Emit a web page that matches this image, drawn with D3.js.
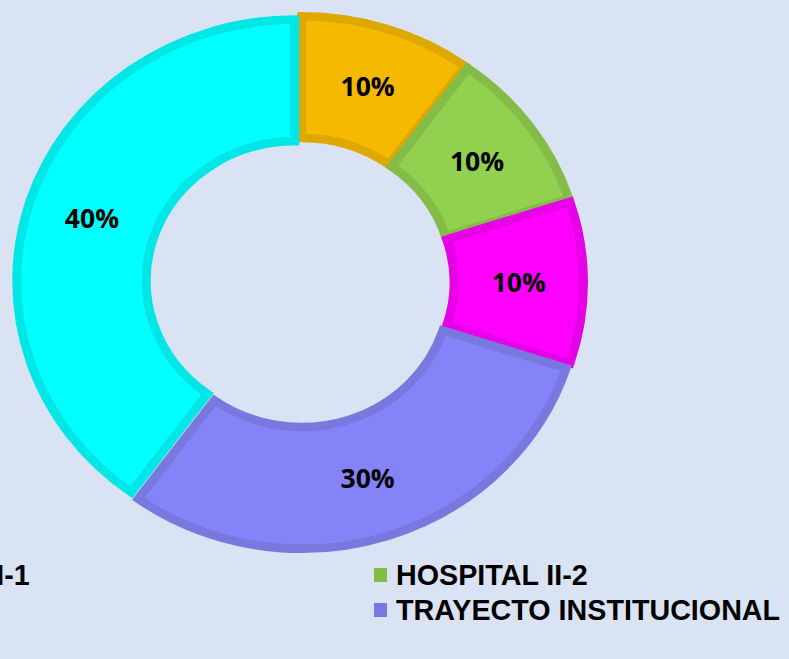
<!DOCTYPE html>
<html>
<head>
<meta charset="utf-8">
<script src="https://cdn.jsdelivr.net/npm/d3@7"></script>
<style>
    html, body { margin: 0; padding: 0; background: #dae3f3; }
    svg { display: block; }
    .label { font-family: "Open Sans", sans-serif; font-weight: 700; font-size: 26.5px; fill: #000; }
    .legend text { font-family: "Liberation Sans", Arial, sans-serif; font-weight: 700; font-size: 28.7px; fill: #000; }
</style>
</head>
<body>
<script>
// chart data (null = legend name lies outside the picture)
const categories = ['HOSPITAL II-1', 'HOSPITAL II-2', null, 'TRAYECTO INSTITUCIONAL', null];
const values = [10, 10, 10, 30, 40];
const fills = ['#f5b900', '#92d050', '#ff00ff', '#8484f8', '#00ffff'];
const borders = ['#dea800', '#84bc48', '#e600e6', '#7878de', '#00e6e6'];

let width = 789;
let height = 659;

const svg = d3.select('body')
    .append('svg')
    .attr('width', width)
    .attr('height', height);

svg.append('rect')
    .attr('width', width)
    .attr('height', height)
    .attr('fill', '#dae3f3');

let cx = 300, cy = 282.5;
let sy = 0.94;          // the picture is slightly squashed vertically
let explode = 5.5;
let outerR = 278, innerR = 148.5;

let data = values.map((v, i) => ({name: categories[i], value: v, fill: fills[i], border: borders[i], index: i}));

let pie = d3.pie()
    .sort(null)
    .value(d => d.value);

let arc = d3.arc()
    .innerRadius(innerR)
    .outerRadius(outerR);

let arcs = pie(data);

let g = svg.append('g')
    .attr('transform', 'translate(' + cx + ',' + cy + ') scale(1,' + sy + ')');

function mid(d) {
    return (d.startAngle + d.endAngle) / 2;
}

g.selectAll('path')
    .data(arcs)
    .enter()
    .append('path')
    .attr('d', arc)
    .attr('fill', d => d.data.fill)
    .attr('stroke', d => d.data.border)
    .attr('stroke-width', 9)
    .attr('transform', d => 'translate(' + (explode * Math.sin(mid(d))) + ',' + (-explode * Math.cos(mid(d))) + ')');

//labels, drawn outside the squashed group so the text keeps its shape
let labelR = (outerR + innerR) / 2 + explode;
svg.selectAll('text.label')
    .data(arcs)
    .enter()
    .append('text')
    .attr('class', 'label')
    .attr('text-anchor', 'middle')
    .attr('x', d => cx + labelR * Math.sin(mid(d)))
    .attr('y', d => cy - sy * labelR * Math.cos(mid(d)))
    .attr('dy', '0.36em')
    .text(d => Math.round(d.value / d3.sum(values) * 100) + '%');

//legend, two columns, row by row (left column runs off the picture)
let colX = [-184, 374];
let rowY = [585, 620, 655];

let legend = svg.append('g')
    .attr('class', 'legend');

let items = legend.selectAll('g')
    .data(data.filter(d => d.name !== null))
    .enter()
    .append('g')
    .attr('transform', d => 'translate(' + colX[d.index % 2] + ',' + rowY[Math.floor(d.index / 2)] + ')');

items.append('rect')
    .attr('x', 0)
    .attr('y', -17)
    .attr('width', 13)
    .attr('height', 14)
    .attr('fill', d => d.border);

items.append('text')
    .attr('x', 22)
    .attr('y', 0)
    .text(d => d.name);
</script>
</body>
</html>
